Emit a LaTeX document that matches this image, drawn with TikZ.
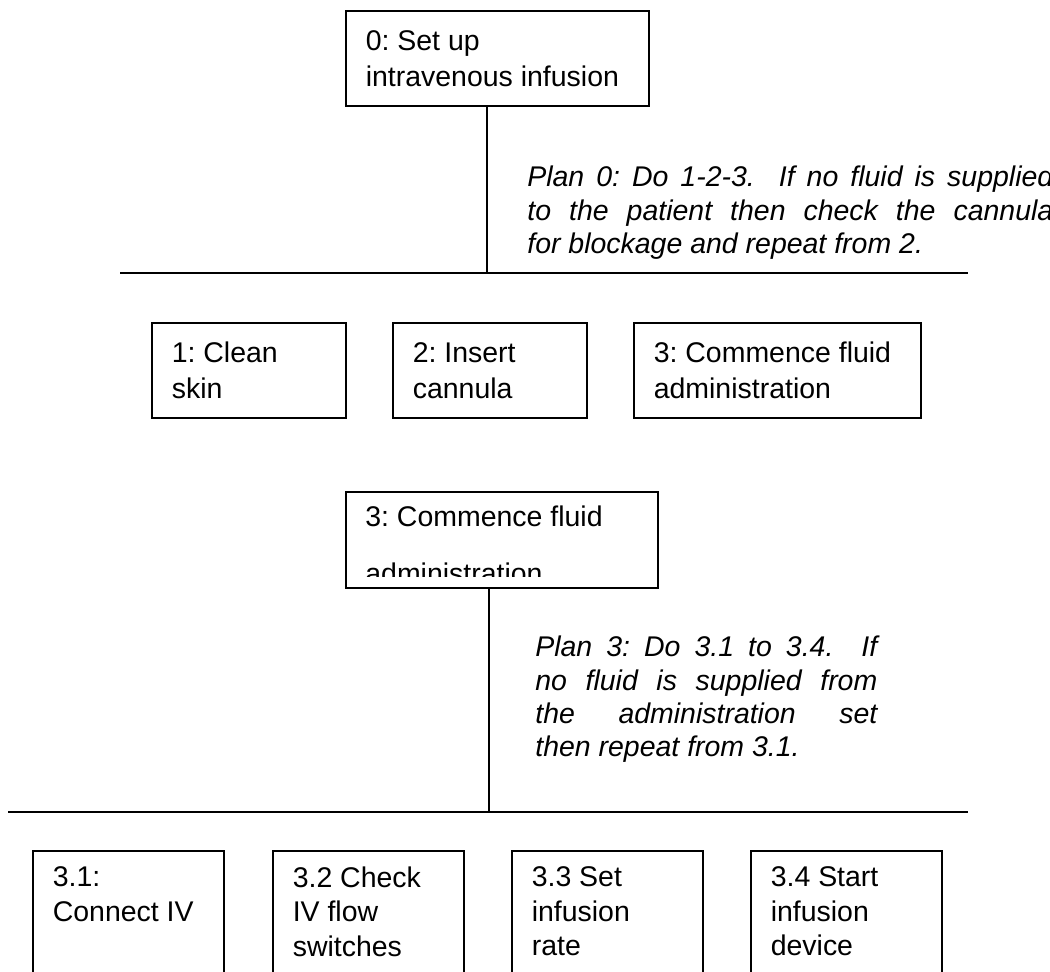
\documentclass[tikz,border=0pt]{standalone}
\usepackage{fontspec}
\setmainfont{Liberation Sans}
\usetikzlibrary{calc}
\frenchspacing

\tikzset{
	taskbox/.style={draw=black, line width=0.9pt, rectangle, anchor=north west, align=left, inner xsep=0.40cm, inner ysep=0cm, font=\fontsize{16.2pt}{20.5pt}\selectfont, execute at begin node={\spaceskip=0pt\xspaceskip=0pt}},
	subbox/.style={taskbox, inner ysep=0.32cm, text depth=3cm, font=\fontsize{16.2pt}{19.6pt}\selectfont},
	plantext/.style={anchor=base west, inner sep=0pt, align=left, font=\fontsize{16.2pt}{18.8pt}\selectfont\itshape, execute at begin node={\spaceskip=0pt\xspaceskip=0pt}},
	treeline/.style={draw=black, line width=0.9pt},
}
\newcommand{\jline}[2]{\hbox to #1{\spaceskip=0pt\xspaceskip=0pt #2}}

\begin{document}
\begin{tikzpicture}
		\useasboundingbox (0.00,0.00) rectangle (21.00,-19.44);
		\node[taskbox, text width=5.26cm, minimum height=1.90cm] (b0) at (6.90,-0.20) {0: Set up\\intravenous infusion};
		\coordinate (j0) at (9.74,-5.46);
		\coordinate (l0w) at (2.40,-5.46);
		\coordinate (l0e) at (19.36,-5.46);
		\draw[treeline] (b0.south -| j0) -- (j0);
		\draw[treeline] (l0w) -- (l0e);
		\node[plantext, text width=10.52cm] (plan0) at (10.54,-3.74) {\jline{10.52cm}{Plan 0: Do 1-2-3.\ \ If no fluid is supplied}\par\jline{10.52cm}{to the patient then check the cannula}\par\hbox{for blockage and repeat from 2.}};
		\node[taskbox, text width=3.08cm, minimum height=1.90cm] (b1) at (3.02,-6.44) {1: Clean\\skin};
		\node[taskbox, text width=3.08cm, minimum height=1.90cm] (b2) at (7.84,-6.44) {2: Insert\\cannula};
		\node[taskbox, text width=4.94cm, minimum height=1.90cm] (b3) at (12.66,-6.44) {3: Commence fluid\\administration};
		\node[taskbox, minimum width=6.24cm, minimum height=1.92cm] (m3) at (6.90,-9.82) {};
		\begin{scope}
			\clip (6.92,-9.84) rectangle (13.12,-11.54);
			\node[plantext, font=\fontsize{16.2pt}{32.4pt}\selectfont, text width=5.40cm] (m3txt) at (7.30,-10.54) {3: Commence fluid\\administration};
		\end{scope}
		\coordinate (j3) at (9.78,-16.24);
		\coordinate (l3w) at (0.16,-16.24);
		\coordinate (l3e) at (19.36,-16.24);
		\draw[treeline] (m3.south -| j3) -- (j3);
		\draw[treeline] (l3w) -- (l3e);
		\node[plantext, text width=6.84cm] (plan3) at (10.70,-13.14) {\jline{6.84cm}{Plan 3: Do 3.1 to 3.4.\ \ If}\par\jline{6.84cm}{no fluid is supplied from}\par\jline{6.84cm}{the administration set}\par\hbox{then repeat from 3.1.}};
		\node[subbox, text width=3.02cm] (c1) at (0.64,-17.00) {3.1:\\Connect IV};
		\node[subbox, text width=3.02cm] (c2) at (5.44,-17.00) {3.2 Check\\IV flow\\switches};
		\node[subbox, text width=3.02cm] (c3) at (10.22,-17.00) {3.3 Set\\infusion\\rate};
		\node[subbox, text width=3.02cm] (c4) at (15.00,-17.00) {3.4 Start\\infusion\\device};
	\end{tikzpicture}
\end{document}
